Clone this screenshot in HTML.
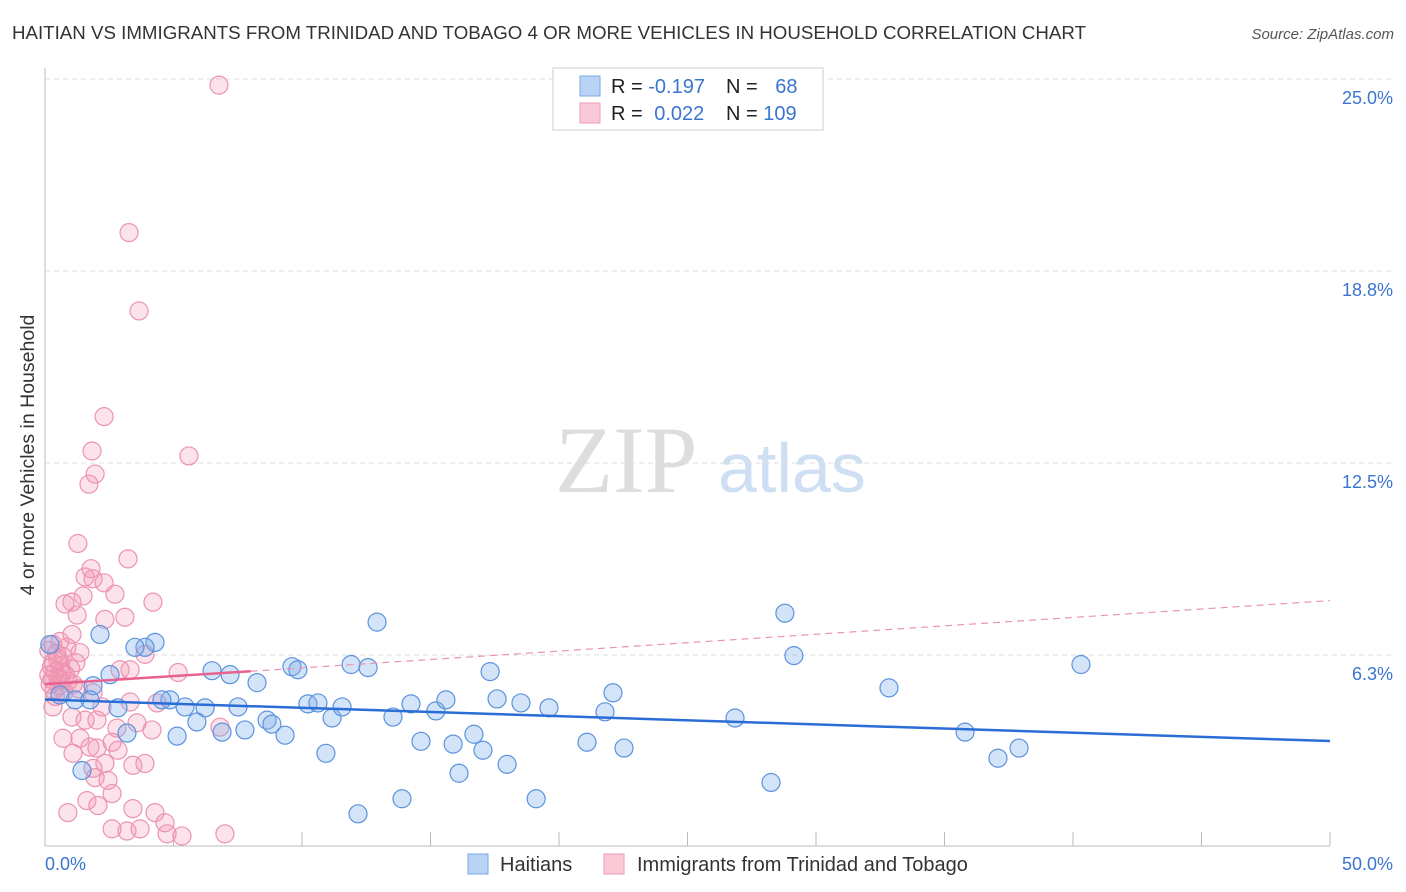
<!DOCTYPE html>
<html><head><meta charset="utf-8"><style>
body{margin:0;background:#fff;font-family:"Liberation Sans",sans-serif;}
svg{display:block}
</style></head><body>
<svg id="c" width="1406" height="892">
<text x="12" y="39" font-size="18" textLength="1074" lengthAdjust="spacingAndGlyphs" fill="#333">HAITIAN VS IMMIGRANTS FROM TRINIDAD AND TOBAGO 4 OR MORE VEHICLES IN HOUSEHOLD CORRELATION CHART</text>
<text x="1394" y="39" font-size="15" fill="#555" font-style="italic" text-anchor="end">Source: ZipAtlas.com</text>
<text x="34" y="455" font-size="19.5" fill="#333" text-anchor="middle" transform="rotate(-90 34 455)">4 or more Vehicles in Household</text>
<text x="555" y="492" font-size="95" fill="#ddd" font-family="Liberation Serif,serif">ZIP</text>
<text x="718" y="492" font-size="70" fill="#cfdff3">atlas</text>
<g id="grid"></g><g id="pts"></g><g id="lines"></g>
<g>
<rect x="553" y="68" width="270" height="62" fill="#fff" stroke="#ccc"/>
<rect x="580" y="76" width="20" height="20" fill="#b9d3f5" stroke="#7ba8e3"/>
<rect x="580" y="103" width="20" height="20" fill="#fac9d8" stroke="#ec9ab4"/>
<text x="611" y="93" font-size="20" fill="#222">R = <tspan fill="#3a75cf">-0.197</tspan></text>
<text x="726" y="93" font-size="20" fill="#222">N = <tspan fill="#3a75cf" dx="12">68</tspan></text>
<text x="611" y="120" font-size="20" fill="#222">R = <tspan fill="#3a75cf" dx="6">0.022</tspan></text>
<text x="726" y="120" font-size="20" fill="#222">N = <tspan fill="#3a75cf">109</tspan></text>
</g>
<g>
<rect x="468" y="854" width="20" height="20" fill="#b9d3f5" stroke="#7ba8e3"/>
<text x="500" y="871" font-size="20" fill="#333">Haitians</text>
<rect x="604" y="854" width="20" height="20" fill="#fac9d8" stroke="#ec9ab4"/>
<text x="637" y="871" font-size="20" fill="#333">Immigrants from Trinidad and Tobago</text>
</g>
</svg>
<script>
const yTicks=[6.25,12.5,18.75,25];
const yTickLabels=["6.3%","12.5%","18.8%","25.0%"];
const xTickLabels=["0.0%","50.0%"];
const blueX=[0.19,2.14,4.28,3.89,3.50,2.53,1.87,1.17,0.58,4.86,4.55,5.45,6.23,5.91,6.89,5.14,7.51,7.78,6.50,7.20,8.25,8.64,8.83,9.34,9.61,9.84,10.23,10.62,11.17,11.56,10.93,11.91,12.57,12.92,12.18,13.54,13.89,14.24,14.63,15.21,15.60,15.88,16.11,16.69,17.04,17.32,17.59,17.98,18.52,19.11,19.61,21.09,21.79,22.10,22.53,26.85,28.25,28.79,29.14,32.84,35.80,37.08,37.90,40.31,1.44,3.19,2.84,1.75];
const blueY=[6.59,6.92,6.66,6.50,6.50,5.61,5.25,4.79,4.95,4.79,4.79,4.56,4.53,4.07,3.74,3.61,4.56,3.81,5.74,5.61,5.35,4.13,4.00,3.64,5.87,5.77,4.66,4.69,4.20,4.56,3.05,5.94,5.84,7.32,1.08,4.23,1.57,4.66,3.44,4.43,4.79,3.35,2.40,3.67,3.15,5.71,4.82,2.69,4.69,1.57,4.53,3.41,4.40,5.02,3.22,4.20,2.10,7.61,6.23,5.18,3.74,2.89,3.22,5.94,2.49,3.71,4.53,4.79];
const pinkX=[6.77,3.27,3.66,2.30,1.83,1.95,1.71,5.60,1.28,3.23,1.79,1.56,1.87,2.30,2.72,1.48,0.78,1.05,1.25,4.20,2.33,3.11,1.05,0.58,1.36,3.89,2.92,3.31,5.18,0.27,3.31,4.36,1.87,0.31,1.05,1.56,2.02,2.22,2.80,3.58,4.16,0.70,1.36,1.75,1.09,2.02,2.61,2.84,2.33,3.42,3.89,1.87,1.95,2.45,2.61,1.63,2.06,0.89,3.42,4.28,4.67,2.61,3.19,3.70,4.75,5.33,7.00,6.81,
0.15,0.3,0.4,0.5,0.2,0.6,0.7,0.8,0.35,0.9,1.0,0.45,0.25,0.55,0.65,0.3,1.1,0.75,0.15,0.5,1.2,0.4,0.85,0.6,1.3];
const pinkY=[24.8,20.0,17.45,14.01,12.89,12.14,11.81,12.73,9.88,9.38,9.06,8.79,8.73,8.60,8.23,8.17,7.91,7.97,7.55,7.97,7.41,7.48,6.92,6.69,6.33,6.27,5.77,5.77,5.68,5.45,4.72,4.69,5.02,4.56,4.23,4.13,4.13,4.56,3.87,4.04,3.81,3.54,3.54,3.25,3.05,3.22,3.41,3.15,2.72,2.66,2.72,2.56,2.26,2.17,1.74,1.51,1.35,1.12,1.25,1.12,0.79,0.59,0.52,0.59,0.43,0.36,0.43,3.90,
6.4,6.0,5.7,5.5,5.3,5.9,6.2,5.6,5.1,5.4,5.8,6.3,5.85,5.25,5.7,6.6,5.3,5.05,5.6,6.1,6.0,4.9,6.5,5.45,5.15];
const blueTrend=[[0,4.8],[50,3.45]];
const pinkTrend=[[0,5.3],[8,5.72]];
const pinkTrendExt=[[8,5.72],[50,8.02]];

const NS="http://www.w3.org/2000/svg";
const X=v=>45+v*(1330-45)/50;
const Y=v=>847-v*30.72;
function mk(tag,attrs,parent){const e=document.createElementNS(NS,tag);for(const k in attrs)e.setAttribute(k,attrs[k]);parent.appendChild(e);return e;}
const grid=document.getElementById('grid');
yTicks.forEach((t,i)=>{
  const l=mk('line',{x1:45,x2:1393,y1:Y(t),y2:Y(t),stroke:'#ddd','stroke-dasharray':'5,4'},grid);
  
  
  const tx=mk('text',{x:1393,y:Y(t)+25,'font-size':18,fill:'#3a75cf','text-anchor':'end'},grid);
  tx.textContent=yTickLabels[i];
  
  
});
const a1=mk('line',{x1:45,x2:45,y1:68,y2:846,stroke:'#bbb'},grid);


const a2=mk('line',{x1:45,x2:1330,y1:846,y2:846,stroke:'#bbb'},grid);


for(let i=1;i<=10;i++){
  const t=mk('line',{x1:X(i*5),x2:X(i*5),y1:832,y2:846,stroke:'#bbb'},grid);
  
  
}
[[0,'start',45],[50,'end',1393]].forEach((d,i)=>{
  const tx=mk('text',{x:d[2],y:870,'font-size':18,fill:'#3a75cf','text-anchor':d[1]},grid);
  tx.textContent=xTickLabels[i];
  
  
});
const pts=document.getElementById('pts');
pinkX.forEach((x,i)=>{
  const c=mk('circle',{cx:X(x),cy:Y(pinkY[i]),r:9,fill:'rgba(244,150,180,0.28)',stroke:'#eb93b0','stroke-width':1.2},pts);
  
  
});
blueX.forEach((x,i)=>{
  const c=mk('circle',{cx:X(x),cy:Y(blueY[i]),r:9,fill:'rgba(130,175,235,0.35)',stroke:'#5b93dd','stroke-width':1.2},pts);
  
  
});
const ln=document.getElementById('lines');
const bl=mk('line',{x1:X(blueTrend[0][0]),y1:Y(blueTrend[0][1]),x2:X(blueTrend[1][0]),y2:Y(blueTrend[1][1]),stroke:'#2a6dd6','stroke-width':2.5},ln);


const pe=mk('line',{x1:X(pinkTrendExt[0][0]),y1:Y(pinkTrendExt[0][1]),x2:X(pinkTrendExt[1][0]),y2:Y(pinkTrendExt[1][1]),stroke:'#eb93b0','stroke-width':1.2,'stroke-dasharray':'7,5'},ln);


const pl=mk('line',{x1:X(pinkTrend[0][0]),y1:Y(pinkTrend[0][1]),x2:X(pinkTrend[1][0]),y2:Y(pinkTrend[1][1]),stroke:'#e8628f','stroke-width':2.5},ln);


</script>
</body></html>
